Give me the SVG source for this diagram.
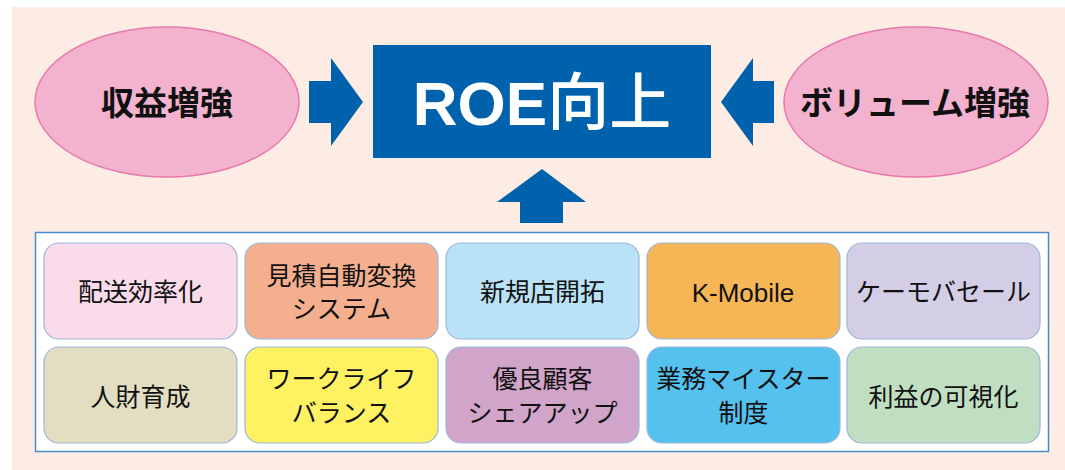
<svg xmlns="http://www.w3.org/2000/svg" width="1065" height="470" viewBox="0 0 1065 470">
<style>
.jp{font-family:"Noto Sans CJK JP","Liberation Sans",sans-serif;fill:#111;text-anchor:middle}
.oval{fill:#F3B3CF;stroke:#E879AA;stroke-width:1.5}
.otxt{font-size:33px;font-weight:bold}
.box{stroke:#9BB7DA;stroke-width:1.2}
.btxt{font-size:25px}
.arrow{fill:#0062AC}
</style>
<rect x="12" y="7" width="1053" height="463" fill="#FCECE4"/>
<g id="roe">
<rect x="373" y="45" width="338" height="113" fill="#0062AC"/>
<text x="542" y="125" font-family="Liberation Sans,'Noto Sans CJK JP',sans-serif" font-size="62" font-weight="bold" fill="#fff" text-anchor="middle">ROE<tspan font-family="'Noto Sans CJK JP',sans-serif" font-weight="500">向上</tspan></text>
</g>
<g id="revenue">
<ellipse class="oval" cx="167" cy="102" rx="132" ry="75"/>
<text class="jp otxt" x="167" y="114.5">収益増強</text>
</g>
<g id="volume">
<ellipse class="oval" cx="916" cy="102" rx="132" ry="75"/>
<text class="jp otxt" x="915" y="114.5">ボリューム増強</text>
</g>
<g id="connectors">
<polygon class="arrow" points="309,81 331,81 331,58 363,102 331,146 331,123 309,123"/>
<polygon class="arrow" points="774,81 753,81 753,58 721,102 753,146 753,123 774,123"/>
<polygon class="arrow" points="542,169 586,202 563,202 563,223 520,223 520,202 497,202"/>
</g>
<g id="panel">
<rect x="35.5" y="232.5" width="1013" height="219" fill="#fff" stroke="#4A8BCB" stroke-width="1.5"/>
</g>
<g id="n1"><rect class="box" x="44" y="243" width="193" height="96" rx="15" fill="#F9DBE9"/><text class="jp btxt" x="140.5" y="301">配送効率化</text></g>
<g id="n2"><rect class="box" x="245" y="243" width="193" height="96" rx="15" fill="#F4B08E"/><text class="jp btxt" x="341.5" y="285">見積自動変換</text><text class="jp btxt" x="341.5" y="318">システム</text></g>
<g id="n3"><rect class="box" x="446" y="243" width="193" height="96" rx="15" fill="#BAE2F7"/><text class="jp btxt" x="542.5" y="301">新規店開拓</text></g>
<g id="n4"><rect class="box" x="647" y="243" width="193" height="96" rx="15" fill="#F7B656"/><text x="743" y="301.5" font-family="Liberation Sans,Arial,sans-serif" font-size="26" fill="#111" text-anchor="middle">K-Mobile</text></g>
<g id="n5"><rect class="box" x="847" y="243" width="193" height="96" rx="15" fill="#D3CDE6"/><text class="jp btxt" x="943.5" y="301">ケーモバセール</text></g>
<g id="n6"><rect class="box" x="44" y="347" width="193" height="96" rx="15" fill="#E3DEC1"/><text class="jp btxt" x="140.5" y="406">人財育成</text></g>
<g id="n7"><rect class="box" x="245" y="347" width="193" height="96" rx="15" fill="#FEF263"/><text class="jp btxt" x="341.5" y="388">ワークライフ</text><text class="jp btxt" x="341.5" y="421.5">バランス</text></g>
<g id="n8"><rect class="box" x="446" y="347" width="193" height="96" rx="15" fill="#D1A5CA"/><text class="jp btxt" x="542.5" y="388">優良顧客</text><text class="jp btxt" x="542.5" y="421.5">シェアアップ</text></g>
<g id="n9"><rect class="box" x="647" y="347" width="193" height="96" rx="15" fill="#55C1EF"/><text class="jp btxt" x="743.5" y="388">業務マイスター</text><text class="jp btxt" x="743.5" y="421.5">制度</text></g>
<g id="n10"><rect class="box" x="847" y="347" width="193" height="96" rx="15" fill="#C0DEC2"/><text class="jp btxt" x="943.5" y="406">利益の可視化</text></g>
</svg>
